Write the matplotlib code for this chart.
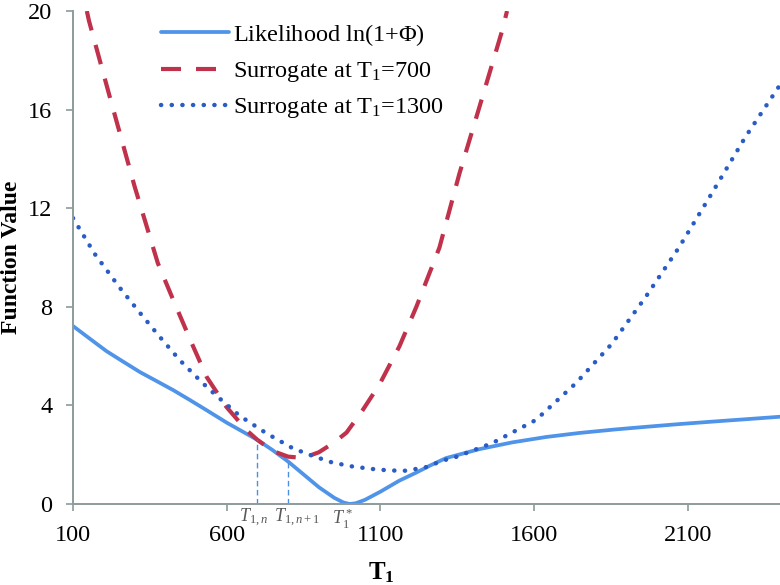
import numpy as np
import matplotlib
matplotlib.use('Agg')
import matplotlib.pyplot as plt

# Wartosci
lik_x = [100, 150, 209, 260, 318, 370, 426, 480, 534, 600, 650, 700, 750, 800, 850, 900,
         950, 980, 1000, 1020, 1050, 1100, 1162, 1216, 1260, 1313, 1420, 1529, 1640, 1746,
         1860, 1963, 2070, 2178, 2290, 2400]
lik_y = [7.22, 6.75, 6.2, 5.8, 5.35, 5.0, 4.62, 4.22, 3.81, 3.3, 2.95, 2.6, 2.18, 1.72, 1.2, 0.68,
         0.25, 0.06, 0.0, 0.03, 0.17, 0.5, 0.95, 1.27, 1.55, 1.86, 2.22, 2.5, 2.72, 2.88,
         3.02, 3.13, 3.24, 3.34, 3.44, 3.54]

sur700_x = [145, 152, 220, 300, 376, 426, 486, 535, 599, 664, 700, 750, 800, 850, 900,
            950, 990, 1042, 1097, 1162, 1217, 1292, 1357, 1422, 1496, 1512]
sur700_y = [20.0, 19.6, 16.5, 12.9, 9.77, 8.28, 6.53, 5.15, 3.94, 3.0, 2.6, 2.15, 1.92, 1.87, 2.1,
            2.5, 2.9, 3.8, 4.85, 6.4, 8.0, 10.4, 13.4, 16.1, 19.2, 20.0]

sur1300_x = [100, 171, 253, 318, 383, 447, 518, 567, 642, 729, 815, 880, 944, 1010, 1074, 1130,
             1184, 1250, 1300, 1346, 1464, 1606, 1736, 1853, 1963, 2071, 2178, 2288, 2400]
sur1300_y = [11.6, 10.14, 8.76, 7.75, 6.77, 5.84, 4.95, 4.39, 3.58, 2.87, 2.26, 1.95, 1.68, 1.52,
             1.42, 1.36, 1.35, 1.5, 1.75, 1.91, 2.47, 3.41, 4.9, 6.5, 8.4, 10.4, 12.6, 14.9, 17.0]

xticks = [100, 600, 1100, 1600, 2100]
yticks = [0, 4, 8, 12, 16, 20]
iter_x = [700, 800]
iter_labels = [r'$T_{1,n}$', r'$T_{1,n+1}$']
opt_x = 1000

plt.rcParams['font.family'] = ['Liberation Serif', 'DejaVu Serif']
plt.rcParams['mathtext.fontset'] = 'custom'
plt.rcParams['mathtext.rm'] = 'Liberation Serif'
plt.rcParams['mathtext.it'] = 'Liberation Serif:italic'
plt.rcParams['mathtext.bf'] = 'Liberation Serif:bold'

fig = plt.figure(figsize=(7.8, 5.85), dpi=100)
ax = fig.add_axes([73 / 780, 81 / 585, 707 / 780, 493 / 585])

ax.plot(lik_x, lik_y, color='#4F94E8', lw=2.7, label=r'Likelihood ln(1+$\Phi$)',
        solid_capstyle='round', solid_joinstyle='round')
ax.plot(sur700_x, sur700_y, color='#C0314B', lw=3.0, dashes=(4.8, 3.6),
        label='Surrogate at T$_1$=700')
ax.plot(sur1300_x, sur1300_y, color='#2A5CC5', lw=3.2, dashes=(0.05, 2.35),
        dash_capstyle='round', label='Surrogate at T$_1$=1300')

# pionowe linie dla iteracji
tops = np.interp(iter_x, lik_x, lik_y)
ax.vlines(iter_x, 0, tops, colors='#4A8FE0', lw=1.0, linestyles=(0, (4, 2.5)))

for xv, lab in zip(iter_x, iter_labels):
    ax.text(xv - 14 if xv == 700 else xv + 28, -0.12, lab, ha='center', va='top',
            fontsize=13, color='#595959', clip_on=False)
ax.text(opt_x - 25, -0.12, r'$T_1^*$', ha='center', va='top', fontsize=13,
        color='#595959', clip_on=False)

ax.set_xlim(100, 2400)
ax.set_ylim(0, 20)
ax.set_xticks(xticks)
ax.set_yticks(yticks)
ax.tick_params(labelsize=17.5, length=5, width=1.2, color='#8C9B9B', pad=7)
ax.tick_params(axis='y', pad=10)
ax.tick_params(axis='x', pad=10)

for s in ['top', 'right']:
    ax.spines[s].set_visible(False)
for s in ['left', 'bottom']:
    ax.spines[s].set_color('#8C9B9B')
    ax.spines[s].set_linewidth(1.4)

ax.set_ylabel('Function Value', fontsize=17, fontweight='bold')
ax.yaxis.set_label_coords((22 - 73) / 707, 0.5)
ax.set_xlabel(r'$\mathbf{T_1}$', fontsize=18)
ax.xaxis.set_label_coords(308 / 707, (504 - 560) / 493)

ax.legend(loc='upper left', bbox_to_anchor=(161 / 780, 1 - 22 / 585),
          bbox_transform=fig.transFigure, frameon=False, fontsize=17.5,
          handlelength=2.8, handletextpad=0.15, labelspacing=0.5,
          borderaxespad=0, borderpad=0)

fig.savefig('out.png', dpi=100)
